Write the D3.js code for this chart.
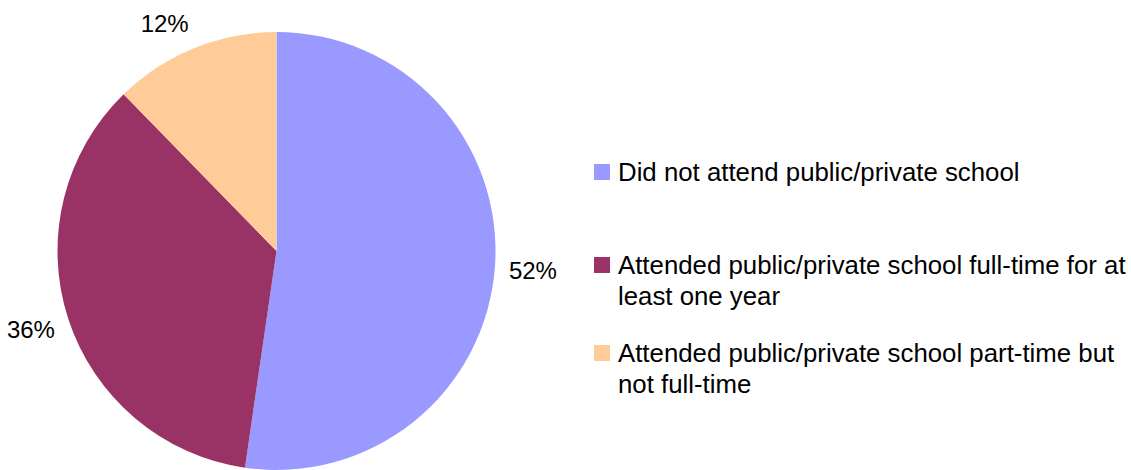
<!DOCTYPE html>
<html>
<head>
<meta charset="utf-8">
<script src="https://cdn.jsdelivr.net/npm/d3@7"></script>
<style>
  html, body { margin: 0; padding: 0; background: #ffffff; }
  svg { display: block; }
  text { font-family: "Liberation Sans", Arial, sans-serif; fill: #000; }
</style>
</head>
<body>
<svg id="chart" width="1131" height="470"></svg>
<script>
const categories = [
  "Did not attend public/private school",
  "Attended public/private school full-time for at least one year",
  "Attended public/private school part-time but not full-time"
];
const legendLines = [
  ["Did not attend public/private school"],
  ["Attended public/private school full-time for at", "least one year"],
  ["Attended public/private school part-time but", "not full-time"]
];
const values = [52.3, 35.4, 12.3];
const valueLabels = ["52%", "36%", "12%"];
const colors = ["#9999FF", "#993366", "#FFCC99"];

const svg = d3.select("#chart");
const cx = 276.5, cy = 251, r = 219;

const color = d3.scaleOrdinal().domain(categories).range(colors);
const pie = d3.pie().sort(null).value(d => d.value);
const arc = d3.arc().innerRadius(0).outerRadius(r);
const data = categories.map((c, i) => ({ name: c, value: values[i], label: valueLabels[i] }));
const arcs = pie(data);

const g = svg.append("g").attr("transform", `translate(${cx},${cy})`);
g.selectAll("path").data(arcs).enter().append("path")
  .attr("d", arc)
  .attr("fill", d => color(d.data.name));

// data labels placed just outside the pie
const labelFont = 24;
const gap = 14;
g.selectAll("text.lbl").data(arcs).enter().append("text")
  .attr("class", "lbl")
  .style("font-size", labelFont + "px")
  .attr("text-anchor", "middle")
  .attr("dominant-baseline", "central")
  .each(function(d) {
    const a = (d.startAngle + d.endAngle) / 2;
    const s = Math.sin(a), c = -Math.cos(a);
    const px = (r + gap) * s, py = (r + gap) * c;
    const w = d.data.label.length * labelFont * 0.667, h = labelFont * 1.25;
    const x = px + Math.sign(s) * w / 2;
    const y = py + c * h / 2 + 2;
    d3.select(this).attr("x", x).attr("y", y).text(d.data.label);
  });

// legend
const legendX = 594, sq = 16, textX = 618;
const legendFont = 25.8, lineH = 30.5;
const legendTop = [172, 265, 353];
const lg = svg.append("g");
legendLines.forEach((lines, i) => {
  const y0 = legendTop[i];
  lg.append("rect")
    .attr("x", legendX).attr("y", y0 - sq / 2)
    .attr("width", sq).attr("height", sq)
    .attr("fill", color(categories[i]));
  const t = lg.append("text").style("font-size", legendFont + "px");
  lines.forEach((ln, j) => {
    t.append("tspan").attr("x", textX).attr("y", y0 + j * lineH)
      .attr("dominant-baseline", "central").text(ln);
  });
});
</script>
</body>
</html>
